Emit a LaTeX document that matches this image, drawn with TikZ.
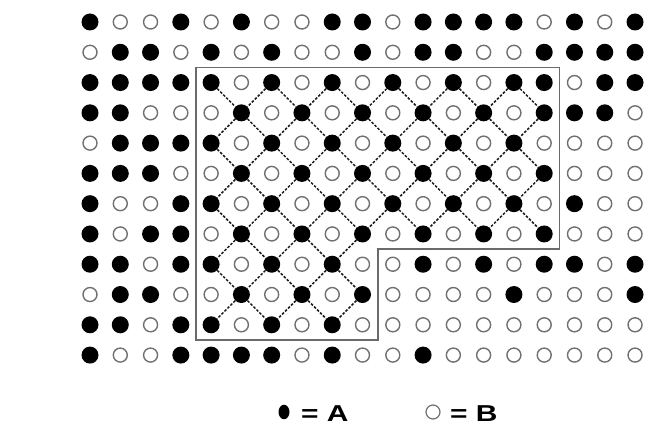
\documentclass[tikz,border=0pt]{standalone}
\usepackage{fontspec}
\setmainfont{Liberation Sans}
\usetikzlibrary{shapes.geometric}
\definecolor{ringgray}{HTML}{707070}
\definecolor{boxgray}{HTML}{6A6A6A}
\definecolor{dashcol}{HTML}{1A1A1A}
\tikzset{
  adot/.style={circle, fill=black, inner sep=0pt, minimum size=17pt},
  bdot/.style={circle, draw=ringgray, line width=1.4pt, fill=white, inner sep=0pt, minimum size=14pt},
  bond/.style={draw=dashcol, line width=1.5pt, dash pattern=on 2.6pt off 1.6pt},
  frame/.style={draw=boxgray, line width=1.6pt},
  legtext/.style={inner sep=0pt, anchor=base west},
}
\begin{document}
\begin{tikzpicture}[x=1pt,y=-1pt]
\useasboundingbox (0,0) rectangle (665,438);
% grid of sites
\foreach \rowdata [count=\r from 0] in {
 {1,0,0,1,0,1,0,0,1,1,0,1,1,1,1,0,1,0,1},
 {0,1,1,0,1,0,1,0,0,1,0,1,1,0,0,1,1,1,1},
 {1,1,1,1,1,0,1,0,1,0,1,0,1,0,1,1,0,1,1},
 {1,1,0,0,0,1,0,1,0,1,0,1,0,1,0,1,1,1,0},
 {0,1,1,1,1,0,1,0,1,0,1,0,1,0,1,0,0,0,0},
 {1,1,1,0,0,1,0,1,0,1,0,1,0,1,0,1,0,0,0},
 {1,0,0,1,1,0,1,0,1,0,1,0,1,0,1,0,1,0,0},
 {1,0,1,1,0,1,0,1,0,1,0,1,0,1,0,1,0,0,0},
 {1,1,0,1,1,0,1,0,1,0,0,1,0,1,0,1,1,0,1},
 {0,1,1,0,0,1,0,1,0,1,0,0,0,0,1,0,0,0,1},
 {1,1,0,1,1,0,1,0,1,0,0,0,0,0,0,0,0,0,0},
 {1,0,0,1,1,1,1,0,1,0,0,1,0,0,0,0,0,0,0}}{
  \foreach \v [count=\c from 0] in \rowdata {
    \ifnum\v=1
      \node[adot] (n\r-\c) at ({90+30.28*\c},{22+30.28*\r}) {};
    \else
      \node[bdot] (n\r-\c) at ({90+30.28*\c},{22+30.28*\r}) {};
    \fi
  }
}
% bonds of the ordered region
\foreach \r in {2,...,9}{
  \pgfmathtruncatemacro{\rr}{\r+1}
  \pgfmathtruncatemacro{\cmaxA}{\r<8 ? 15 : 9}
  \pgfmathtruncatemacro{\cmaxB}{\rr<8 ? 15 : 9}
  \foreach \c in {4,...,15}{
    \pgfmathtruncatemacro{\s}{\r+\c}
    \pgfmathtruncatemacro{\cl}{\c-1}
    \pgfmathtruncatemacro{\cr}{\c+1}
    \ifnum\c>\cmaxA\else
      \ifodd\s\else
        \ifnum\cl<4\else\ifnum\cl>\cmaxB\else
          \draw[bond] (n\r-\c) -- (n\rr-\cl);
        \fi\fi
        \ifnum\cr>\cmaxB\else
          \draw[bond] (n\r-\c) -- (n\rr-\cr);
        \fi
      \fi
    \fi
  }
}
% frame around ordered region
\coordinate (f1) at (196,67.4);
\coordinate (f2) at (559.3,67.4);
\coordinate (f3) at (559.3,249.1);
\coordinate (f4) at (377.7,249.1);
\coordinate (f5) at (377.7,340);
\coordinate (f6) at (196,340);
\draw[frame] (f1) -- (f2) -- (f3) -- (f4) -- (f5) -- (f6) -- cycle;
% legend
\node[ellipse, fill=black, inner sep=0pt, minimum width=11pt, minimum height=14.5pt] (legA) at (284,412) {};
\node[legtext] (labA) at (301,422) {\scalebox{1.3}[1]{\fontsize{23}{23}\selectfont\bfseries = A}};
\node[circle, draw=ringgray, line width=1.2pt, inner sep=0pt, minimum size=14pt] (legB) at (433,412) {};
\node[legtext] (labB) at (450,422) {\scalebox{1.3}[1]{\fontsize{23}{23}\selectfont\bfseries = B}};
\end{tikzpicture}
\end{document}
